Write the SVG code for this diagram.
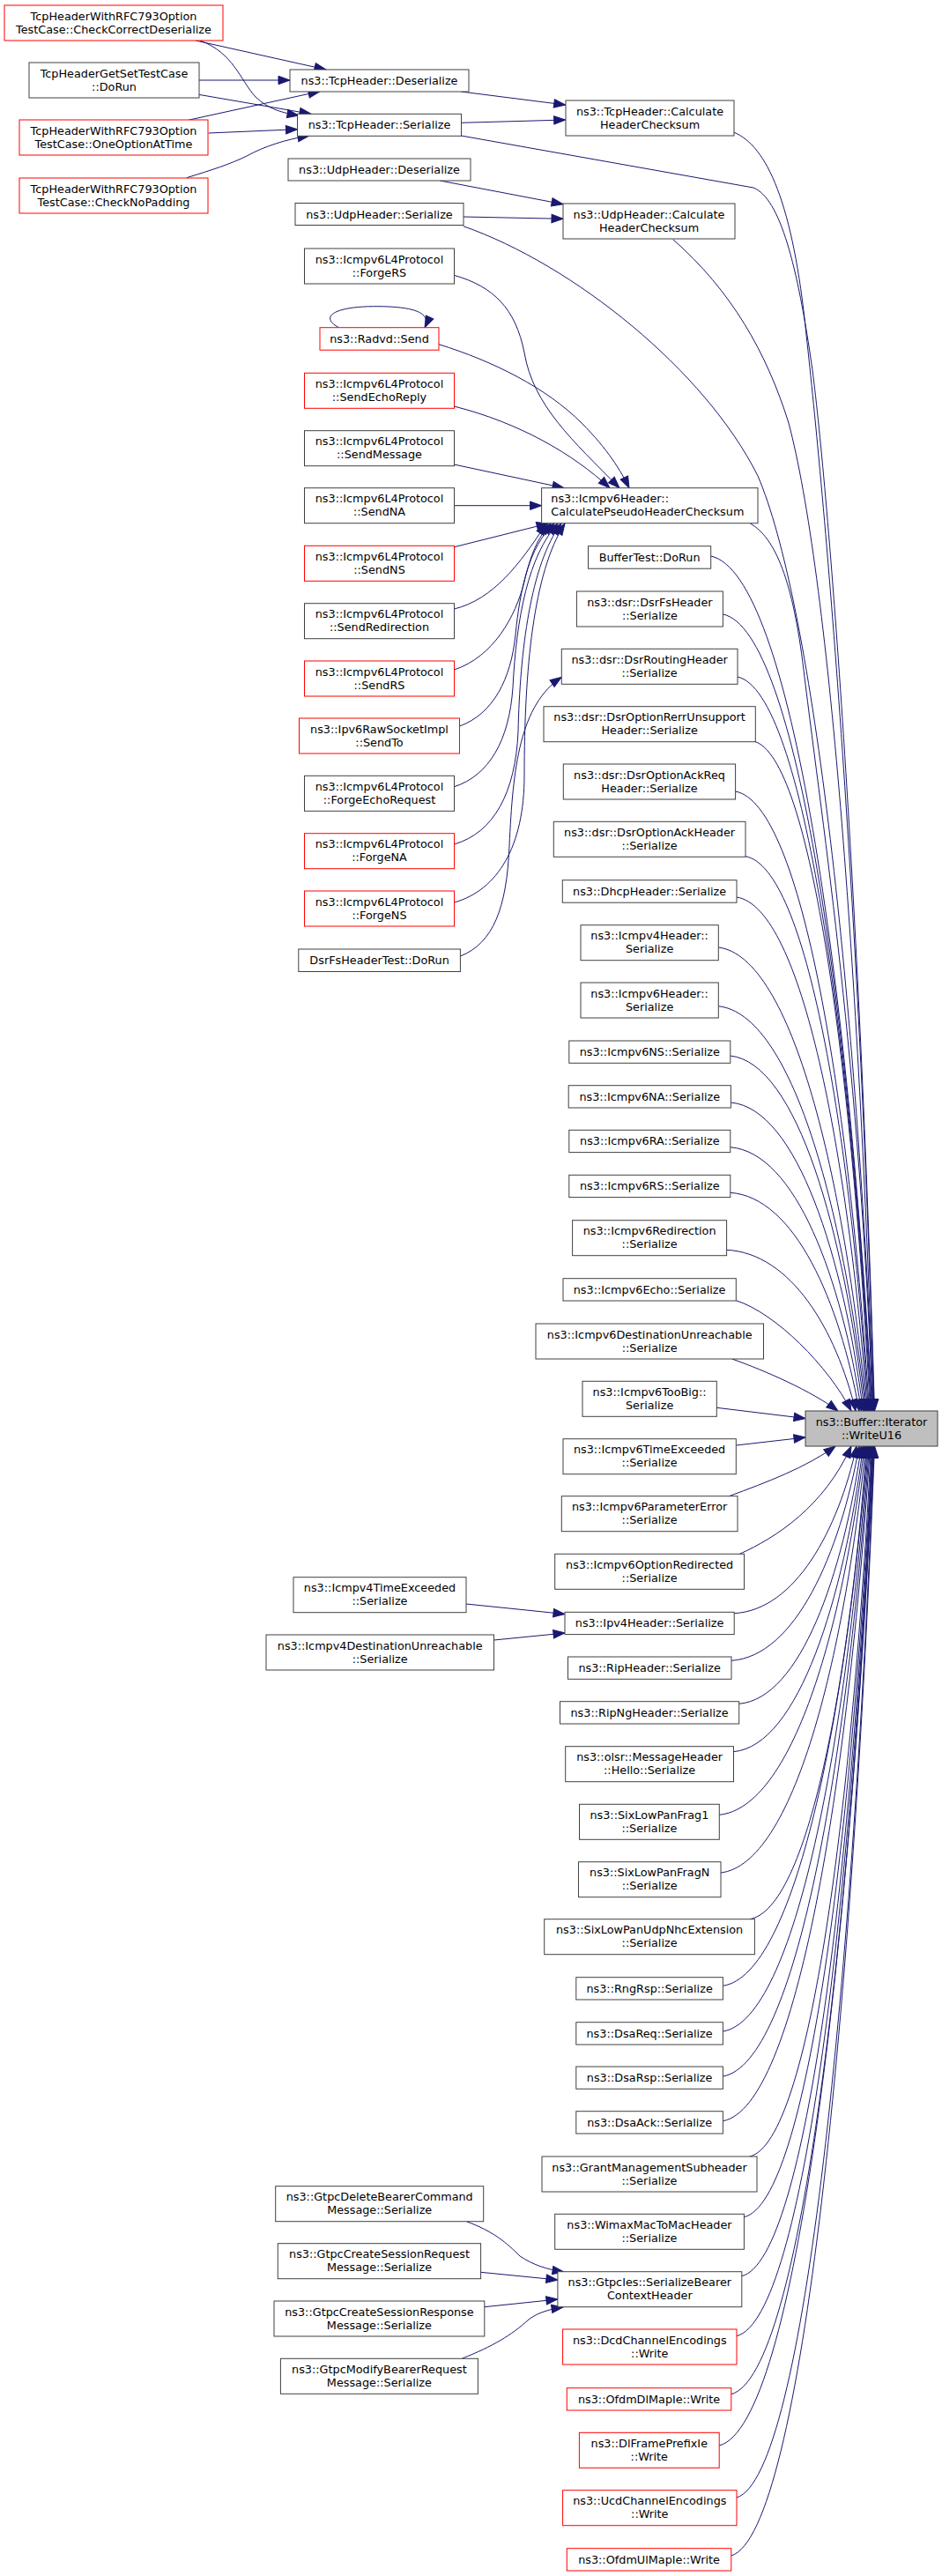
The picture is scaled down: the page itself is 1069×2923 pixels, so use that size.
<svg xmlns="http://www.w3.org/2000/svg" width="1069" height="2923" viewBox="0 0 1069 2923">
<style>
.n rect{fill:#fff;stroke:#404040;stroke-width:1}
.r rect{fill:#fff;stroke:#ff0000;stroke-width:1}
.t rect{fill:#bfbfbf;stroke:#404040;stroke-width:1}
text{font-family:"DejaVu Sans","Liberation Sans",sans-serif;font-size:12.8px;text-anchor:middle;fill:#000}
#edges path{fill:none;stroke:#191970;stroke-width:1;marker-end:url(#ah)}
</style>
<defs>
<marker id="ah" markerUnits="userSpaceOnUse" markerWidth="15" markerHeight="11" refX="13" refY="4.7" orient="auto" overflow="visible">
<path d="M0,0 L13,4.7 L0,9.4 z" fill="#191970" stroke="#191970" stroke-width="1"/>
</marker>
</defs>
<rect width="1069" height="2923" fill="#fff"/>
<g id="edges">
<path d="M222,46 L370,79"/>
<path d="M227,46 C265,60 272,90 290,110 C305,124 320,128 339,131"/>
<path d="M225.5,91 L329,91"/>
<path d="M225.5,107.3 L353,129.3"/>
<path d="M213.5,136.3 L363,103.7"/>
<path d="M236.6,151 L337.5,146.7"/>
<path d="M211.8,201.7 C240,193 262,186 280,177 C300,166 325,158 351,154"/>
<path d="M523.4,104 L641.7,119"/>
<path d="M523.4,139.3 L641.7,136"/>
<path d="M499.3,205 L639,231.7"/>
<path d="M525.8,246 L639,248.3"/>
<path d="M384.6,371.7 C362,360 378,347 430,347.7 C470,348 490,355 482,371.7"/>
<path d="M515.2,312.3 C560,325 585,350 595,400 C605,460 650,500 703,553.7"/>
<path d="M498,390.7 C560,410 620,440 660,480 C690,510 705,535 714,553.7"/>
<path d="M515.2,461 C590,480 650,515 692,553.7"/>
<path d="M515.2,527 L640,553.7"/>
<path d="M515.5,573.7 L614.6,573.7"/>
<path d="M515.5,620.7 L622,594"/>
<path d="M515.5,691 C560,680 590,640 620,594"/>
<path d="M515.5,760 C560,745 585,700 595,660 C602,630 610,610 625,594"/>
<path d="M521.5,824 C560,810 580,770 585,720 C590,670 600,620 629,594"/>
<path d="M515.5,892.7 C555,880 578,840 582,780 C586,700 600,630 633,594"/>
<path d="M515.5,958 C560,945 585,900 588,830 C590,740 602,640 637,594"/>
<path d="M515.5,1024 C565,1010 595,960 595,880 C595,760 605,650 641,594"/>
<path d="M522.4,1085 C560,1070 575,1030 578,960 C582,870 590,800 637.3,768.3"/>
<path d="M523.4,154 L855,213 C885,225 905,300 922,420 C940,560 975,1000 992.5,1601"/>
<path d="M832.5,150 C870,165 900,230 915,380 C935,560 975,1000 992,1601"/>
<path d="M525.8,256.7 C650,300 800,420 860,540 C920,680 970,1100 991.5,1601"/>
<path d="M763.8,271.7 C830,330 870,400 895,480 C940,650 975,1100 991,1601"/>
<path d="M851.4,594 C880,610 900,660 912,760 C935,950 975,1200 990.5,1601"/>
<path d="M806.7,631 C898.4,650.4 962.5,1116 990,1601"/>
<path d="M820.5,697 C905,715 964.2,1149 989.5,1601"/>
<path d="M837,768 C912.8,784.7 965.8,1184.5 988.5,1601"/>
<path d="M855,841 C921.3,856.2 967.6,1221 987.5,1601"/>
<path d="M834.6,898 C910.6,912 963.7,1249.5 986.5,1601"/>
<path d="M846,971.7 C915.8,984.3 964.6,1286.4 985.5,1601"/>
<path d="M836,1018 C910.3,1029.7 962.2,1309.5 984.5,1601"/>
<path d="M815.3,1075 C899.4,1085.5 958.3,1338 983.5,1601"/>
<path d="M815.3,1141.7 C898.9,1150.9 957.4,1371.4 982.5,1601"/>
<path d="M828.7,1198 C904.9,1206.1 958.2,1399.5 981,1601"/>
<path d="M829.4,1251 C904.5,1258 957,1426 979.5,1601"/>
<path d="M828.7,1301.7 C903.1,1307.7 955.2,1451.4 977.5,1601"/>
<path d="M828.7,1353.3 C901.9,1358.3 953,1477.2 975,1601"/>
<path d="M824.6,1418.3 C897.8,1422 949,1509.7 971,1601"/>
<path d="M835.3,1475.7 C880,1490 940,1550 966,1601"/>
<path d="M830.8,1542 C870,1556 920,1578 951,1601"/>
<path d="M813.3,1597.3 L914,1609.5"/>
<path d="M835.3,1640 L914,1631"/>
<path d="M827.4,1697.7 C870,1682 915,1665 948,1641"/>
<path d="M839.4,1763.3 C880,1745 935,1710 966,1641"/>
<path d="M833.2,1830.7 C902.6,1826.9 951.2,1735.9 972,1641"/>
<path d="M830,1884.3 C902.5,1879.4 953.3,1762.7 975,1641"/>
<path d="M838.7,1933.3 C908.1,1927.5 956.7,1787.2 977.5,1641"/>
<path d="M832.5,1987.7 C906,1980.8 957.5,1814.4 979.5,1641"/>
<path d="M816.3,2059.3 C898.7,2050.9 956.3,1850.2 981,1641"/>
<path d="M818,2125 C900.3,2115.3 957.8,1883 982.5,1641"/>
<path d="M850.7,2177.7 C917.1,2166 963.6,1908.9 983.5,1641"/>
<path d="M820.4,2253.3 C902.5,2241.1 959.9,1947.2 984.5,1641"/>
<path d="M820.4,2305 C903,2291.7 960.7,1973 985.5,1641"/>
<path d="M820.4,2356 C903.5,2341.7 961.6,1998.5 986.5,1641"/>
<path d="M820.4,2406.7 C904,2391.4 962.4,2023.9 987.5,1641"/>
<path d="M850.7,2447 C919.6,2430.9 967.8,2044 988.5,1641"/>
<path d="M844.4,2515.7 C917,2498.2 967.7,2078.4 989.5,1641"/>
<path d="M841.8,2582.7 C915.9,2563.9 967.8,2111.9 990,1641"/>
<path d="M836,2650.7 C913.3,2630.5 967.3,2145.9 990.5,1641"/>
<path d="M829.8,2716.7 C910.4,2695.2 966.8,2178.9 991,1641"/>
<path d="M816.2,2775 C903.9,2752.3 965.2,2208 991.5,1641"/>
<path d="M836,2834 C914,2810.1 968.6,2237.5 992,1641"/>
<path d="M829.8,2900 C911.2,2874.8 968.1,2270.5 992.5,1641"/>
<path d="M529,1820 L641,1831.5"/>
<path d="M560.5,1861 L641,1853"/>
<path d="M529.4,2520.7 C560,2532 575,2545 590,2560 C605,2570 620,2575 640,2578"/>
<path d="M545.6,2578.3 L632.9,2587"/>
<path d="M549.8,2617.7 L632.9,2609"/>
<path d="M524.2,2676.3 C560,2662 580,2650 600,2632 C610,2624 625,2620 639,2618"/>
</g>
<g id="n1" class="r"><rect x="5" y="6" width="248" height="40"/><text><tspan x="129" y="22.5">TcpHeaderWithRFC793Option</tspan><tspan x="129" y="37.5">TestCase::CheckCorrectDeserialize</tspan></text></g>
<g id="n2" class="n"><rect x="33" y="71" width="193" height="40"/><text><tspan x="129.5" y="87.5">TcpHeaderGetSetTestCase</tspan><tspan x="129.5" y="102.5">::DoRun</tspan></text></g>
<g id="n3" class="r"><rect x="22" y="136" width="214" height="40"/><text><tspan x="129" y="152.5">TcpHeaderWithRFC793Option</tspan><tspan x="129" y="167.5">TestCase::OneOptionAtTime</tspan></text></g>
<g id="n4" class="r"><rect x="22" y="202" width="214" height="40"/><text><tspan x="129" y="218.5">TcpHeaderWithRFC793Option</tspan><tspan x="129" y="233.5">TestCase::CheckNoPadding</tspan></text></g>
<g id="n5" class="n"><rect x="329" y="79" width="203" height="25"/><text x="430.5" y="96">ns3::TcpHeader::Deserialize</text></g>
<g id="n6" class="n"><rect x="337.5" y="129.3" width="186" height="25"/><text x="430.5" y="146.3">ns3::TcpHeader::Serialize</text></g>
<g id="n7" class="n"><rect x="327" y="180" width="207" height="25"/><text x="430.5" y="197">ns3::UdpHeader::Deserialize</text></g>
<g id="n8" class="n"><rect x="335" y="230.5" width="191" height="25"/><text x="430.5" y="247.5">ns3::UdpHeader::Serialize</text></g>
<g id="n9" class="n"><rect x="345.5" y="282" width="170" height="40"/><text><tspan x="430.5" y="298.5">ns3::Icmpv6L4Protocol</tspan><tspan x="430.5" y="313.5">::ForgeRS</tspan></text></g>
<g id="n10" class="r"><rect x="363" y="371.7" width="135" height="25.5"/><text x="430.5" y="388.9">ns3::Radvd::Send</text></g>
<g id="n11" class="r"><rect x="345.5" y="423.3" width="170" height="40"/><text><tspan x="430.5" y="439.8">ns3::Icmpv6L4Protocol</tspan><tspan x="430.5" y="454.8">::SendEchoReply</tspan></text></g>
<g id="n12" class="n"><rect x="345.5" y="488.7" width="170" height="40"/><text><tspan x="430.5" y="505.2">ns3::Icmpv6L4Protocol</tspan><tspan x="430.5" y="520.2">::SendMessage</tspan></text></g>
<g id="n13" class="n"><rect x="345.5" y="553.7" width="170" height="40"/><text><tspan x="430.5" y="570.2">ns3::Icmpv6L4Protocol</tspan><tspan x="430.5" y="585.2">::SendNA</tspan></text></g>
<g id="n14" class="r"><rect x="345.5" y="619.3" width="170" height="40"/><text><tspan x="430.5" y="635.8">ns3::Icmpv6L4Protocol</tspan><tspan x="430.5" y="650.8">::SendNS</tspan></text></g>
<g id="n15" class="n"><rect x="345.5" y="684.7" width="170" height="40"/><text><tspan x="430.5" y="701.2">ns3::Icmpv6L4Protocol</tspan><tspan x="430.5" y="716.2">::SendRedirection</tspan></text></g>
<g id="n16" class="r"><rect x="345.5" y="750" width="170" height="40"/><text><tspan x="430.5" y="766.5">ns3::Icmpv6L4Protocol</tspan><tspan x="430.5" y="781.5">::SendRS</tspan></text></g>
<g id="n17" class="r"><rect x="339.5" y="815" width="182" height="40"/><text><tspan x="430.5" y="831.5">ns3::Ipv6RawSocketImpl</tspan><tspan x="430.5" y="846.5">::SendTo</tspan></text></g>
<g id="n18" class="n"><rect x="345.5" y="880.3" width="170" height="40"/><text><tspan x="430.5" y="896.8">ns3::Icmpv6L4Protocol</tspan><tspan x="430.5" y="911.8">::ForgeEchoRequest</tspan></text></g>
<g id="n19" class="r"><rect x="345.5" y="945.7" width="170" height="40"/><text><tspan x="430.5" y="962.2">ns3::Icmpv6L4Protocol</tspan><tspan x="430.5" y="977.2">::ForgeNA</tspan></text></g>
<g id="n20" class="r"><rect x="345.5" y="1011" width="170" height="40"/><text><tspan x="430.5" y="1027.5">ns3::Icmpv6L4Protocol</tspan><tspan x="430.5" y="1042.5">::ForgeNS</tspan></text></g>
<g id="n21" class="n"><rect x="338.8" y="1077" width="183.6" height="25.5"/><text x="430.6" y="1094.2">DsrFsHeaderTest::DoRun</text></g>
<g id="n22" class="n"><rect x="333" y="1789.7" width="196" height="40"/><text><tspan x="431" y="1806.2">ns3::Icmpv4TimeExceeded</tspan><tspan x="431" y="1821.2">::Serialize</tspan></text></g>
<g id="n23" class="n"><rect x="302" y="1855" width="258.5" height="40"/><text><tspan x="431.2" y="1871.5">ns3::Icmpv4DestinationUnreachable</tspan><tspan x="431.2" y="1886.5">::Serialize</tspan></text></g>
<g id="n24" class="n"><rect x="312.7" y="2480.7" width="236" height="40"/><text><tspan x="430.7" y="2497.2">ns3::GtpcDeleteBearerCommand</tspan><tspan x="430.7" y="2512.2">Message::Serialize</tspan></text></g>
<g id="n25" class="n"><rect x="315.3" y="2545.7" width="230.3" height="40"/><text><tspan x="430.5" y="2562.2">ns3::GtpcCreateSessionRequest</tspan><tspan x="430.5" y="2577.2">Message::Serialize</tspan></text></g>
<g id="n26" class="n"><rect x="311" y="2611" width="238.8" height="40"/><text><tspan x="430.4" y="2627.5">ns3::GtpcCreateSessionResponse</tspan><tspan x="430.4" y="2642.5">Message::Serialize</tspan></text></g>
<g id="n27" class="n"><rect x="318.4" y="2676.3" width="224" height="40"/><text><tspan x="430.4" y="2692.8">ns3::GtpcModifyBearerRequest</tspan><tspan x="430.4" y="2707.8">Message::Serialize</tspan></text></g>
<g id="m1" class="n"><rect x="642" y="114" width="191" height="40"/><text><tspan x="737.5" y="130.5">ns3::TcpHeader::Calculate</tspan><tspan x="737.5" y="145.5">HeaderChecksum</tspan></text></g>
<g id="m2" class="n"><rect x="639" y="231" width="195" height="40"/><text><tspan x="736.5" y="247.5">ns3::UdpHeader::Calculate</tspan><tspan x="736.5" y="262.5">HeaderChecksum</tspan></text></g>
<g id="m3" class="n"><rect x="614.6" y="553.7" width="245.4" height="40"/><text style="text-anchor:start"><tspan x="625.3" y="570.2">ns3::Icmpv6Header::</tspan><tspan x="625.3" y="585.2">CalculatePseudoHeaderChecksum</tspan></text></g>
<g id="m4" class="n"><rect x="667.5" y="619.7" width="139.2" height="25.5"/><text x="737.1" y="636.9">BufferTest::DoRun</text></g>
<g id="m5" class="n"><rect x="654.4" y="671" width="166" height="40"/><text><tspan x="737.4" y="687.5">ns3::dsr::DsrFsHeader</tspan><tspan x="737.4" y="702.5">::Serialize</tspan></text></g>
<g id="m6" class="n"><rect x="637.3" y="736.3" width="199.7" height="40"/><text><tspan x="737.1" y="752.8">ns3::dsr::DsrRoutingHeader</tspan><tspan x="737.1" y="767.8">::Serialize</tspan></text></g>
<g id="m7" class="n"><rect x="617" y="801.7" width="240.3" height="40"/><text><tspan x="737.1" y="818.2">ns3::dsr::DsrOptionRerrUnsupport</tspan><tspan x="737.1" y="833.2">Header::Serialize</tspan></text></g>
<g id="m8" class="n"><rect x="639.3" y="867" width="195.3" height="40"/><text><tspan x="737" y="883.5">ns3::dsr::DsrOptionAckReq</tspan><tspan x="737" y="898.5">Header::Serialize</tspan></text></g>
<g id="m9" class="n"><rect x="628.3" y="932.3" width="217.7" height="40"/><text><tspan x="737.1" y="948.8">ns3::dsr::DsrOptionAckHeader</tspan><tspan x="737.1" y="963.8">::Serialize</tspan></text></g>
<g id="m10" class="n"><rect x="638.3" y="998.7" width="197.7" height="25.5"/><text x="737.1" y="1015.9">ns3::DhcpHeader::Serialize</text></g>
<g id="m11" class="n"><rect x="659" y="1049.7" width="156.3" height="40"/><text><tspan x="737.1" y="1066.2">ns3::Icmpv4Header::</tspan><tspan x="737.1" y="1081.2">Serialize</tspan></text></g>
<g id="m12" class="n"><rect x="659" y="1115" width="156.3" height="40"/><text><tspan x="737.1" y="1131.5">ns3::Icmpv6Header::</tspan><tspan x="737.1" y="1146.5">Serialize</tspan></text></g>
<g id="m13" class="n"><rect x="645.8" y="1181" width="183" height="25.3"/><text x="737.3" y="1198">ns3::Icmpv6NS::Serialize</text></g>
<g id="m14" class="n"><rect x="645.2" y="1231.7" width="184.2" height="25.3"/><text x="737.3" y="1248.7">ns3::Icmpv6NA::Serialize</text></g>
<g id="m15" class="n"><rect x="645.8" y="1282.3" width="183" height="25.3"/><text x="737.3" y="1299.3">ns3::Icmpv6RA::Serialize</text></g>
<g id="m16" class="n"><rect x="645.8" y="1333.3" width="183" height="25.3"/><text x="737.3" y="1350.3">ns3::Icmpv6RS::Serialize</text></g>
<g id="m17" class="n"><rect x="649.6" y="1384.7" width="175" height="40"/><text><tspan x="737.1" y="1401.2">ns3::Icmpv6Redirection</tspan><tspan x="737.1" y="1416.2">::Serialize</tspan></text></g>
<g id="m18" class="n"><rect x="639" y="1450.7" width="196.3" height="25.3"/><text x="737.1" y="1467.7">ns3::Icmpv6Echo::Serialize</text></g>
<g id="m19" class="n"><rect x="608" y="1502" width="258.5" height="40"/><text><tspan x="737.2" y="1518.5">ns3::Icmpv6DestinationUnreachable</tspan><tspan x="737.2" y="1533.5">::Serialize</tspan></text></g>
<g id="m20" class="n"><rect x="661" y="1567.3" width="152.3" height="40"/><text><tspan x="737.1" y="1583.8">ns3::Icmpv6TooBig::</tspan><tspan x="737.1" y="1598.8">Serialize</tspan></text></g>
<g id="m21" class="n"><rect x="639" y="1632.7" width="196.3" height="40"/><text><tspan x="737.1" y="1649.2">ns3::Icmpv6TimeExceeded</tspan><tspan x="737.1" y="1664.2">::Serialize</tspan></text></g>
<g id="m22" class="n"><rect x="637.3" y="1697.7" width="199.7" height="40"/><text><tspan x="737.1" y="1714.2">ns3::Icmpv6ParameterError</tspan><tspan x="737.1" y="1729.2">::Serialize</tspan></text></g>
<g id="m23" class="n"><rect x="629.7" y="1763.3" width="214.8" height="40"/><text><tspan x="737.1" y="1779.8">ns3::Icmpv6OptionRedirected</tspan><tspan x="737.1" y="1794.8">::Serialize</tspan></text></g>
<g id="m24" class="n"><rect x="641" y="1829.3" width="192.2" height="25.3"/><text x="737.1" y="1846.3">ns3::Ipv4Header::Serialize</text></g>
<g id="m25" class="n"><rect x="644.5" y="1880" width="185.5" height="25.3"/><text x="737.2" y="1897">ns3::RipHeader::Serialize</text></g>
<g id="m26" class="n"><rect x="635.5" y="1930.7" width="203.2" height="25.3"/><text x="737.1" y="1947.7">ns3::RipNgHeader::Serialize</text></g>
<g id="m27" class="n"><rect x="641.7" y="1981.7" width="190.8" height="40"/><text><tspan x="737.1" y="1998.2">ns3::olsr::MessageHeader</tspan><tspan x="737.1" y="2013.2">::Hello::Serialize</tspan></text></g>
<g id="m28" class="n"><rect x="657.5" y="2047.3" width="158.8" height="40"/><text><tspan x="736.9" y="2063.8">ns3::SixLowPanFrag1</tspan><tspan x="736.9" y="2078.8">::Serialize</tspan></text></g>
<g id="m29" class="n"><rect x="656.5" y="2112.7" width="161.5" height="40"/><text><tspan x="737.2" y="2129.2">ns3::SixLowPanFragN</tspan><tspan x="737.2" y="2144.2">::Serialize</tspan></text></g>
<g id="m30" class="n"><rect x="617.7" y="2177.7" width="238.7" height="40"/><text><tspan x="737.1" y="2194.2">ns3::SixLowPanUdpNhcExtension</tspan><tspan x="737.1" y="2209.2">::Serialize</tspan></text></g>
<g id="m31" class="n"><rect x="653.8" y="2243.7" width="166.6" height="25.3"/><text x="737.1" y="2260.7">ns3::RngRsp::Serialize</text></g>
<g id="m32" class="n"><rect x="653.8" y="2294.7" width="166.6" height="25.3"/><text x="737.1" y="2311.7">ns3::DsaReq::Serialize</text></g>
<g id="m33" class="n"><rect x="653.8" y="2345" width="166.6" height="25.3"/><text x="737.1" y="2362">ns3::DsaRsp::Serialize</text></g>
<g id="m34" class="n"><rect x="653.8" y="2395.7" width="166.6" height="25.3"/><text x="737.1" y="2412.7">ns3::DsaAck::Serialize</text></g>
<g id="m35" class="n"><rect x="615" y="2447" width="244" height="40"/><text><tspan x="737" y="2463.5">ns3::GrantManagementSubheader</tspan><tspan x="737" y="2478.5">::Serialize</tspan></text></g>
<g id="m36" class="n"><rect x="629.7" y="2512.3" width="214.7" height="40"/><text><tspan x="737" y="2528.8">ns3::WimaxMacToMacHeader</tspan><tspan x="737" y="2543.8">::Serialize</tspan></text></g>
<g id="m37" class="n"><rect x="632.9" y="2577.7" width="208.9" height="40"/><text><tspan x="737.3" y="2594.2">ns3::GtpcIes::SerializeBearer</tspan><tspan x="737.3" y="2609.2">ContextHeader</tspan></text></g>
<g id="m38" class="r"><rect x="638.6" y="2643" width="197.4" height="40"/><text><tspan x="737.3" y="2659.5">ns3::DcdChannelEncodings</tspan><tspan x="737.3" y="2674.5">::Write</tspan></text></g>
<g id="m39" class="r"><rect x="643.3" y="2709.7" width="186.5" height="25.3"/><text x="736.5" y="2726.7">ns3::OfdmDlMapIe::Write</text></g>
<g id="m40" class="r"><rect x="657.4" y="2760.3" width="158.8" height="40"/><text><tspan x="736.8" y="2776.8">ns3::DlFramePrefixIe</tspan><tspan x="736.8" y="2791.8">::Write</tspan></text></g>
<g id="m41" class="r"><rect x="638.6" y="2825.7" width="197.4" height="40"/><text><tspan x="737.3" y="2842.2">ns3::UcdChannelEncodings</tspan><tspan x="737.3" y="2857.2">::Write</tspan></text></g>
<g id="m42" class="r"><rect x="643.3" y="2891.7" width="186.5" height="25.3"/><text x="736.5" y="2908.7">ns3::OfdmUlMapIe::Write</text></g>
<g id="target" class="t"><rect x="914" y="1601" width="150" height="40"/><text><tspan x="989" y="1617.5">ns3::Buffer::Iterator</tspan><tspan x="989" y="1632.5">::WriteU16</tspan></text></g>
</svg>
